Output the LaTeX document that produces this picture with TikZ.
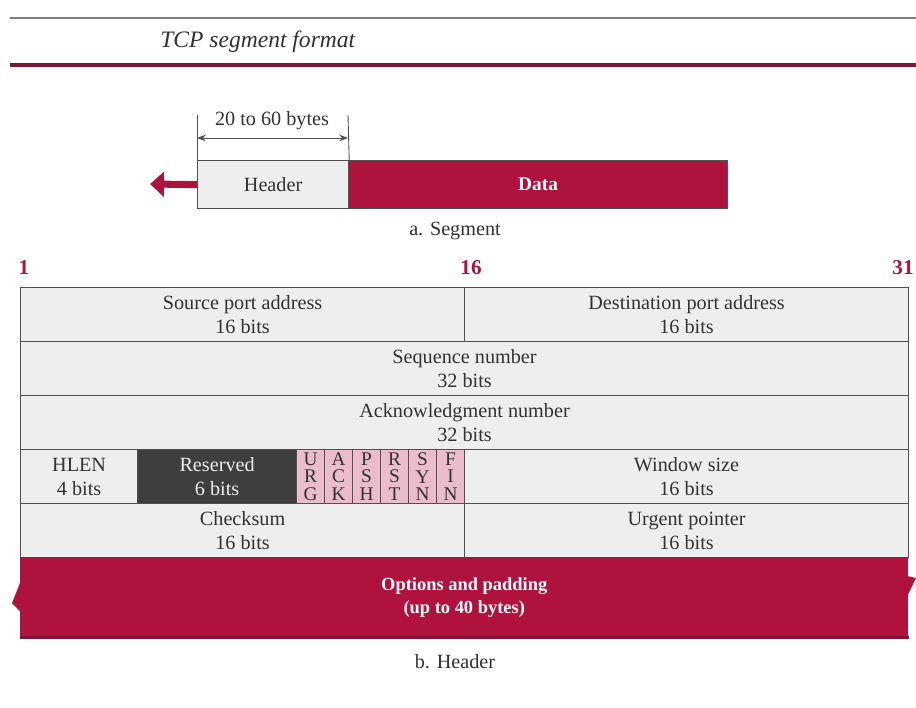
\documentclass[tikz,border=0pt]{standalone}
\usepackage{fontspec}
\setmainfont{Liberation Serif}
\usetikzlibrary{positioning, arrows.meta}
\definecolor{crimson}{RGB}{176,18,62}
\definecolor{crimsondark}{RGB}{125,22,52}
\definecolor{cellgray}{RGB}{238,238,238}
\definecolor{linegray}{RGB}{80,80,80}
\definecolor{textgray}{RGB}{50,50,50}
\definecolor{resgray}{RGB}{62,62,62}
\definecolor{flagpink}{RGB}{234,188,204}
\tikzset{
  cell/.style={
    draw=linegray, line width=0.7pt, fill=cellgray,
    inner sep=0pt, anchor=north west, align=center,
    text=textgray, font=\fontsize{11.5}{13.6}\selectfont,
    minimum height=1.08cm
  },
  halfcell/.style={cell, minimum width=8.88cm},
  fullcell/.style={cell, minimum width=17.76cm},
  flagcell/.style={cell, fill=flagpink, minimum width=0.56cm,
    font=\fontsize{11}{10}\selectfont},
  bitno/.style={font=\bfseries\fontsize{12}{14}\selectfont, text=crimson, inner sep=0pt},
  caption/.style={font=\fontsize{11.5}{14}\selectfont, text=textgray, inner sep=0pt},
}

\begin{document}
\begin{tikzpicture}[x=0.02cm, y=-0.02cm]
  \useasboundingbox (0,0) rectangle (916,707);

  % Title bar
  \coordinate (ruleTL) at (10,18);
  \coordinate (ruleTR) at (916,18);
  \coordinate (ruleBL) at (10,65);
  \coordinate (ruleBR) at (916,65);
  \draw[gray, line width=1pt] (ruleTL) -- (ruleTR);
  \node[anchor=west, inner sep=0pt, text=textgray,
        font=\itshape\fontsize{13.4}{16}\selectfont] (title) at (160,42) {TCP segment format};
  \draw[crimsondark, line width=2.4pt] (ruleBL) -- (ruleBR);

  % a. Segment
  \node[cell, minimum width=3.02cm, minimum height=0.96cm] (hdr) at (197,160) {Header};
  \node[cell, fill=crimson, text=white, minimum width=7.58cm, minimum height=0.96cm,
        font=\bfseries\fontsize{11}{13}\selectfont] (data) at (348,160) {Data};
  \coordinate (tickL) at (197,115);
  \coordinate (tickR) at (348,115);
  \coordinate (dimL) at (197,138);
  \coordinate (dimR) at (348,138);
  \draw[linegray, line width=0.5pt] (tickL) -- (hdr.north west);
  \draw[linegray, line width=0.5pt] (tickR) -- (hdr.north east);
  \draw[linegray, line width=0.5pt, {Stealth[length=5pt]}-{Stealth[length=5pt]}] (dimL) -- (dimR);
  \node[caption] (size) at (272,121) {20 to 60 bytes};
  \coordinate (outArrow) at (150,184);
  \draw[crimson, line width=4pt, -{Triangle[length=8pt, width=14pt]}] (hdr.west) -- (outArrow);
  \node[caption] (capA) at (455,231) {a. Segment};

  % bit positions
  \node[bitno] (bit1)  at (24,268)  {1};
  \node[bitno] (bit16) at (471,268) {16};
  \node[bitno] (bit31) at (903,268) {31};

  % b. Header fields
  \node[halfcell] (src) at (20,287)  {Source port address\\16 bits};
  \node[halfcell] (dst) at (464,287) {Destination port address\\16 bits};
  \node[fullcell] (seq) at (20,341)  {Sequence number\\32 bits};
  \node[fullcell] (ack) at (20,395)  {Acknowledgment number\\32 bits};
  \node[cell, minimum width=2.34cm] (hlen) at (20,449) {HLEN\\4 bits};
  \node[cell, fill=resgray, text=cellgray, minimum width=3.18cm] (res) at (137,449) {Reserved\\6 bits};
  \foreach \a/\b/\c [count=\i] in {U/R/G, A/C/K, P/S/H, R/S/T, S/Y/N, F/I/N}
    \node[flagcell] (flag\i) at ({296+28*(\i-1)},449) {\a\\\b\\\c};
  \node[halfcell] (win) at (464,449) {Window size\\16 bits};
  \node[halfcell] (chk) at (20,503)  {Checksum\\16 bits};
  \node[halfcell] (urg) at (464,503) {Urgent pointer\\16 bits};

  % Options band with torn edges
  \node[anchor=north west, inner sep=0pt, fill=crimson, text=white, align=center,
        minimum width=17.76cm, minimum height=1.6cm,
        font=\bfseries\fontsize{10.5}{13}\selectfont] (opt) at (20,557)
        {Options and padding\\(up to 40 bytes)};
  \fill[crimson] (20,583) -- (12,603) -- (20,611) -- cycle;
  \fill[crimson] (907,576) -- (916,578) -- (904,603) -- (907,606) -- cycle;
  \draw[crimsondark, line width=1.5pt] (opt.south west) -- (opt.south east);
  \node[caption] (capB) at (455,662) {b. Header};
\end{tikzpicture}
\end{document}
